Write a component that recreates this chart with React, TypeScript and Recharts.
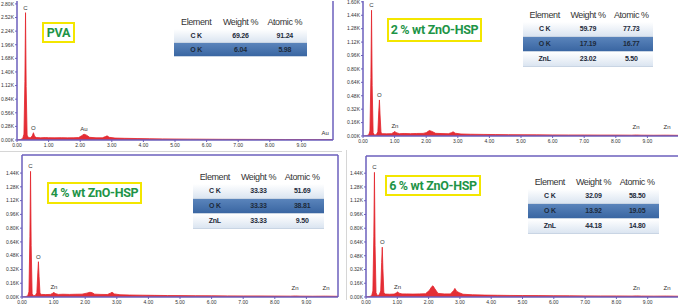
import React from "react";
import { AreaChart, Area, XAxis, YAxis, ReferenceDot, ReferenceLine } from "recharts";

// energy axis (keV) and count axis (K counts) ticks
const energyTicks = [0, 1, 2, 3, 4, 5, 6, 7, 8, 9];
const pvaCountTicks = [0, 0.28, 0.56, 0.84, 1.12, 1.4, 1.68, 1.96, 2.24, 2.52, 2.8];
const zno2CountTicks = [0, 0.16, 0.32, 0.48, 0.64, 0.8, 0.96, 1.12, 1.28, 1.44, 1.6];
const znoCountTicks = [0, 0.16, 0.32, 0.48, 0.64, 0.8, 0.96, 1.12, 1.28, 1.44];

// spectra: [energy keV, counts K]
const pvaSpectrum: [number, number][] = [
  [0, 0], [0.1, 0.008], [0.18, 0.03], [0.22, 0.12], [0.25, 1.2], [0.27, 2.62], [0.29, 1.1],
  [0.32, 0.1], [0.36, 0.05], [0.42, 0.045], [0.48, 0.08], [0.52, 0.15], [0.56, 0.07],
  [0.62, 0.05], [0.75, 0.045], [0.9, 0.05], [1.0, 0.047], [1.2, 0.045], [1.4, 0.048],
  [1.6, 0.044], [1.8, 0.046], [1.95, 0.05], [2.05, 0.09], [2.12, 0.12], [2.2, 0.1],
  [2.3, 0.055], [2.5, 0.045], [2.7, 0.045], [2.8, 0.07], [2.85, 0.085], [2.92, 0.055],
  [3.1, 0.04], [3.4, 0.035], [3.8, 0.03], [4.2, 0.026], [4.6, 0.023], [5.0, 0.02],
  [5.5, 0.018], [6.0, 0.016], [6.5, 0.014], [7.0, 0.013], [7.5, 0.012], [8.0, 0.011],
  [8.5, 0.01], [9.0, 0.009], [9.5, 0.008], [10, 0.008],
];

const zno2Spectrum: [number, number][] = [
  [0, 0], [0.1, 0.004], [0.18, 0.012], [0.22, 0.06], [0.25, 0.7], [0.27, 1.5], [0.29, 0.6],
  [0.32, 0.04], [0.36, 0.012], [0.42, 0.015], [0.47, 0.05], [0.5, 0.3], [0.52, 0.43],
  [0.54, 0.25], [0.57, 0.04], [0.62, 0.028], [0.75, 0.026], [0.9, 0.028], [0.98, 0.045],
  [1.01, 0.055], [1.05, 0.04], [1.15, 0.028], [1.3, 0.03], [1.5, 0.028], [1.7, 0.03],
  [1.9, 0.031], [2.0, 0.04], [2.1, 0.065], [2.18, 0.055], [2.3, 0.032], [2.5, 0.029],
  [2.7, 0.027], [2.8, 0.04], [2.85, 0.05], [2.92, 0.033], [3.1, 0.024], [3.4, 0.021],
  [3.8, 0.019], [4.2, 0.017], [4.6, 0.016], [5.0, 0.015], [5.5, 0.014], [6.0, 0.013],
  [6.5, 0.012], [7.0, 0.012], [7.5, 0.011], [8.0, 0.011], [8.5, 0.01], [8.65, 0.012],
  [8.8, 0.01], [9.2, 0.009], [9.6, 0.01], [10, 0.008],
];

const zno4Spectrum: [number, number][] = [
  [0, 0], [0.1, 0.004], [0.18, 0.012], [0.22, 0.06], [0.25, 0.7], [0.27, 1.46], [0.29, 0.6],
  [0.32, 0.04], [0.36, 0.014], [0.42, 0.017], [0.47, 0.05], [0.5, 0.28], [0.52, 0.41],
  [0.54, 0.24], [0.57, 0.04], [0.62, 0.03], [0.75, 0.028], [0.9, 0.03], [0.98, 0.045],
  [1.01, 0.055], [1.05, 0.04], [1.15, 0.03], [1.3, 0.032], [1.5, 0.03], [1.7, 0.032],
  [1.9, 0.033], [2.05, 0.045], [2.15, 0.055], [2.22, 0.05], [2.3, 0.033], [2.5, 0.03],
  [2.7, 0.029], [2.8, 0.045], [2.85, 0.055], [2.92, 0.036], [3.1, 0.026], [3.4, 0.023],
  [3.8, 0.021], [4.2, 0.019], [4.6, 0.017], [5.0, 0.016], [5.5, 0.015], [6.0, 0.014],
  [6.5, 0.013], [7.0, 0.012], [7.5, 0.012], [8.0, 0.011], [8.5, 0.01], [8.65, 0.012],
  [8.8, 0.01], [9.2, 0.009], [9.6, 0.01], [10, 0.008],
];

const zno6Spectrum: [number, number][] = [
  [0, 0], [0.1, 0.005], [0.18, 0.014], [0.22, 0.07], [0.25, 0.7], [0.27, 1.45], [0.29, 0.6],
  [0.32, 0.05], [0.36, 0.018], [0.42, 0.022], [0.47, 0.07], [0.5, 0.4], [0.52, 0.58],
  [0.54, 0.33], [0.57, 0.05], [0.62, 0.034], [0.75, 0.032], [0.9, 0.034], [0.98, 0.05],
  [1.01, 0.06], [1.05, 0.045], [1.15, 0.036], [1.3, 0.036], [1.5, 0.034], [1.7, 0.036],
  [1.9, 0.038], [2.02, 0.075], [2.1, 0.12], [2.14, 0.13], [2.2, 0.095], [2.3, 0.042],
  [2.5, 0.036], [2.7, 0.036], [2.8, 0.075], [2.84, 0.1], [2.9, 0.065], [2.98, 0.05],
  [3.1, 0.032], [3.4, 0.026], [3.8, 0.022], [4.2, 0.02], [4.6, 0.018], [5.0, 0.017],
  [5.5, 0.016], [6.0, 0.015], [6.5, 0.014], [7.0, 0.013], [7.5, 0.012], [8.0, 0.012],
  [8.5, 0.011], [8.65, 0.013], [8.8, 0.011], [9.2, 0.01], [9.6, 0.011], [10, 0.009],
];

// peak labels: [energy, counts, element]
const pvaPeaks: [number, number, string][] = [
  [0.27, 2.62, "C"], [0.52, 0.15, "O"], [2.12, 0.12, "Au"], [9.75, 0.04, "Au"],
];
const zno2Peaks: [number, number, string][] = [
  [0.27, 1.5, "C"], [0.52, 0.43, "O"], [1.01, 0.055, "Zn"], [8.64, 0.05, "Zn"], [9.62, 0.05, "Zn"],
];
const zno4Peaks: [number, number, string][] = [
  [0.27, 1.46, "C"], [0.52, 0.41, "O"], [1.01, 0.055, "Zn"], [8.64, 0.05, "Zn"], [9.62, 0.05, "Zn"],
];
const zno6Peaks: [number, number, string][] = [
  [0.27, 1.45, "C"], [0.52, 0.58, "O"], [1.01, 0.06, "Zn"], [8.64, 0.05, "Zn"], [9.62, 0.05, "Zn"],
];

// composition tables: [element, weight %, atomic %]
const pvaTable = [["C K", "69.26", "91.24"], ["O K", "6.04", "5.98"]];
const zno2Table = [["C K", "59.79", "77.73"], ["O K", "17.19", "16.77"], ["ZnL", "23.02", "5.50"]];
const zno4Table = [["C K", "33.33", "51.69"], ["O K", "33.33", "38.81"], ["ZnL", "33.33", "9.50"]];
const zno6Table = [["C K", "32.09", "58.50"], ["O K", "13.92", "19.05"], ["ZnL", "44.18", "14.80"]];

const RED = "#e3232b";
const FRAME = "#6b5fbc";
const AXIS_W = 24;
const tickStyle = { fontSize: 5, fill: "#333", fontFamily: "Liberation Sans, Arial" };

type SpectrumProps = {
  left: number;
  top: number;
  plotWidth: number;
  height: number;
  marginTop: number;
  yMax: number;
  yTicks: number[];
  spectrum: [number, number][];
  peaks: [number, number, string][];
  topLine?: boolean;
  rightLine?: boolean;
};

// left = x of the y axis line
const Spectrum = ({ left, top, plotWidth, height, marginTop, yMax, yTicks, spectrum, peaks, topLine, rightLine }: SpectrumProps) => {
  const data = spectrum.map(([e, c]) => ({ e, c }));
  return (
    <div style={{ position: "absolute", left: left - AXIS_W, top }}>
      <AreaChart
        width={plotWidth + AXIS_W + 2}
        height={height}
        data={data}
        margin={{ top: marginTop, right: 2, bottom: 0, left: 0 }}
        style={{ overflow: "visible" }}
      >
        <XAxis
          dataKey="e"
          type="number"
          domain={[0, 10]}
          ticks={energyTicks}
          interval={0}
          tickFormatter={(v: number) => v.toFixed(2)}
          tick={tickStyle}
          tickSize={2}
          tickMargin={1}
          height={10}
          stroke={FRAME}
          axisLine={{ stroke: FRAME, strokeWidth: 1.5 }}
          allowDataOverflow
        />
        <YAxis
          type="number"
          domain={[0, yMax]}
          ticks={yTicks}
          interval={0}
          tickFormatter={(v: number) => `${v.toFixed(2)}K`}
          tick={tickStyle}
          tickSize={2}
          tickMargin={1}
          width={AXIS_W}
          stroke={FRAME}
          axisLine={{ stroke: FRAME, strokeWidth: 1.5 }}
          allowDataOverflow
        />
        {topLine && <ReferenceLine y={yMax} stroke={FRAME} strokeWidth={1.5} />}
        {rightLine && <ReferenceLine x={10} stroke={FRAME} strokeWidth={1.5} />}
        <Area type="linear" dataKey="c" stroke={RED} strokeWidth={0.8} fill={RED} fillOpacity={0.95} isAnimationActive={false} />
        {peaks.map(([e, c, name], i) => (
          <ReferenceDot
            key={i}
            x={e}
            y={c}
            r={0}
            fill="none"
            stroke="none"
            ifOverflow="visible"
            label={{ value: name, position: "top", offset: 3, fontSize: 6, fill: "#333", fontFamily: "Liberation Sans, Arial" }}
          />
        ))}
      </AreaChart>
    </div>
  );
};

type TableProps = { left: number; top: number; width: number; rowH: number; rows: string[][] };

const CompTable = ({ left, top, width, rowH, rows }: TableProps) => {
  const cols = ["Element", "Weight %", "Atomic %"];
  const cell: React.CSSProperties = { flex: 1, textAlign: "center" };
  return (
    <div style={{ position: "absolute", left, top, width, fontFamily: "Liberation Sans, Arial" }}>
      <div style={{ display: "flex", fontSize: 9, color: "#333", height: 14, lineHeight: "14px", letterSpacing: -0.4 }}>
        {cols.map((c) => (
          <div key={c} style={cell}>{c}</div>
        ))}
      </div>
      {rows.map((r, i) => (
        <div
          key={i}
          style={{
            display: "flex",
            height: rowH,
            lineHeight: `${rowH}px`,
            fontSize: 7,
            fontWeight: 700,
            color: "#1d2a3a",
            letterSpacing: -0.2,
            background: i === 1 ? "linear-gradient(#5a84bb, #3a66a2)" : "linear-gradient(#ffffff, #dbe5f1)",
            borderBottom: "1px solid #c9d5e4",
          }}
        >
          {r.map((v, j) => (
            <div key={j} style={cell}>{v}</div>
          ))}
        </div>
      ))}
    </div>
  );
};

const Title = ({ left, top, width, height, text }: { left: number; top: number; width: number; height: number; text: string }) => (
  <div
    style={{
      position: "absolute",
      left,
      top,
      width,
      height,
      boxSizing: "border-box",
      border: "2px solid #f3e600",
      background: "#fff",
      color: "#1e9447",
      fontFamily: "Roboto, Arial",
      fontWeight: 700,
      fontSize: 12.5,
      letterSpacing: -0.3,
      textAlign: "center",
      lineHeight: `${height - 4}px`,
      whiteSpace: "nowrap",
    }}
  >
    {text}
  </div>
);

const App = () => {
  return (
    <div style={{ position: "absolute", left: 0, top: 0, width: 678, height: 307, overflow: "hidden", background: "#fff" }}>
      <div style={{ position: "absolute", left: 0, top: 151, width: 342, height: 1, background: "#d6d6d6" }} />
      <div style={{ position: "absolute", left: 346, top: 150, width: 1, height: 150, background: "#d6d6d6" }} />

      <Spectrum left={17} top={0} plotWidth={316} height={150} marginTop={1} yMax={2.86} yTicks={pvaCountTicks} spectrum={pvaSpectrum} peaks={pvaPeaks} rightLine />
      <Spectrum left={363} top={0} plotWidth={316} height={146} marginTop={1} yMax={1.61} yTicks={zno2CountTicks} spectrum={zno2Spectrum} peaks={zno2Peaks} />
      <Spectrum left={22} top={152} plotWidth={316} height={155} marginTop={3} yMax={1.65} yTicks={znoCountTicks} spectrum={zno4Spectrum} peaks={zno4Peaks} topLine rightLine />
      <Spectrum left={366} top={153} plotWidth={313} height={154} marginTop={3} yMax={1.64} yTicks={znoCountTicks} spectrum={zno6Spectrum} peaks={zno6Peaks} topLine />

      <Title left={42} top={22} width={33} height={21} text="PVA" />
      <Title left={387} top={18} width={95} height={24} text="2 % wt ZnO-HSP" />
      <Title left={47} top={182} width={95} height={22} text="4 % wt ZnO-HSP" />
      <Title left={385} top={175} width={96} height={21} text="6 % wt ZnO-HSP" />

      <CompTable left={174} top={15} width={133} rowH={13} rows={pvaTable} />
      <CompTable left={523} top={8} width={130} rowH={14} rows={zno2Table} />
      <CompTable left={193} top={170} width={131} rowH={14} rows={zno4Table} />
      <CompTable left={528} top={175} width={131} rowH={14} rows={zno6Table} />
    </div>
  );
};

export default App;
